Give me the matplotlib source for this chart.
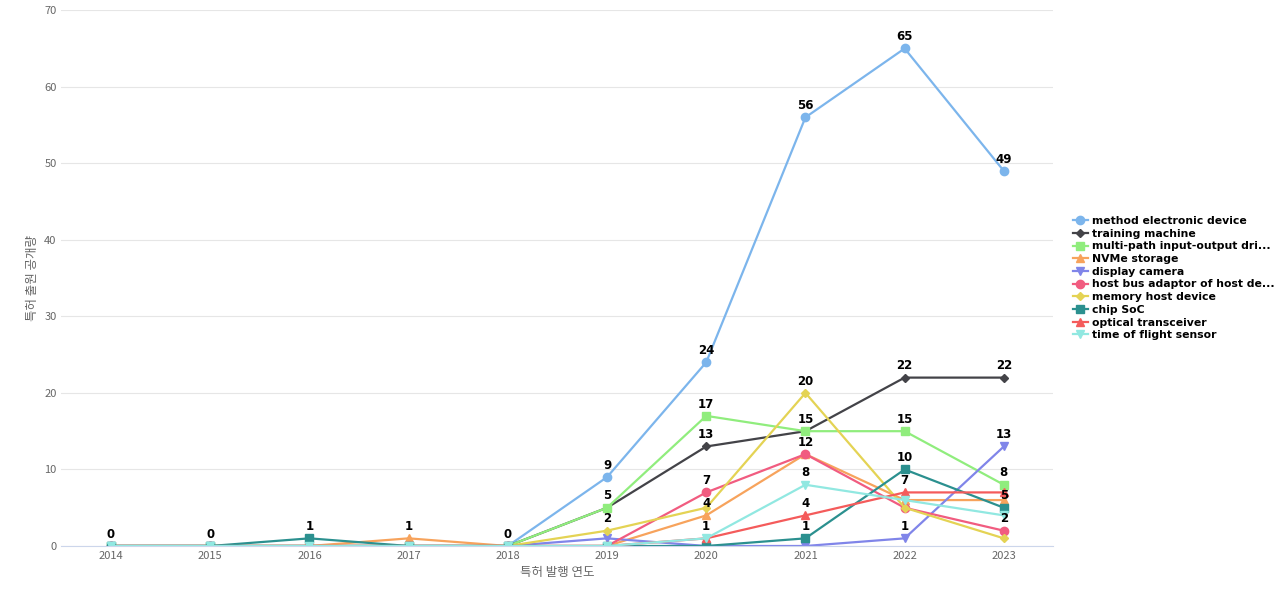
import matplotlib.pyplot as plt

plt.rcParams['font.family'] = ['Noto Sans CJK KR', 'Noto Sans CJK JP', 'Noto Sans CJK SC', 'DejaVu Sans']

years = [2014, 2015, 2016, 2017, 2018, 2019, 2020, 2021, 2022, 2023]
series_names = ['method electronic device', 'training machine', 'multi-path input-output dri...',
                'NVMe storage', 'display camera', 'host bus adaptor of host de...',
                'memory host device', 'chip SoC', 'optical transceiver', 'time of flight sensor']
values = [
    [0, 0, 0, 0, 0, 9, 24, 56, 65, 49],
    [0, 0, 0, 0, 0, 5, 13, 15, 22, 22],
    [0, 0, 0, 0, 0, 5, 17, 15, 15, 8],
    [0, 0, 0, 1, 0, 0, 4, 12, 6, 6],
    [0, 0, 0, 0, 0, 1, 0, 0, 1, 13],
    [0, 0, 0, 0, 0, 0, 7, 12, 5, 2],
    [0, 0, 0, 0, 0, 2, 5, 20, 5, 1],
    [0, 0, 1, 0, 0, 0, 0, 1, 10, 5],
    [0, 0, 0, 0, 0, 0, 1, 4, 7, 7],
    [0, 0, 0, 0, 0, 0, 1, 8, 6, 4],
]
colors = ['#7cb5ec', '#434348', '#90ed7d', '#f7a35c', '#8085e9',
          '#f15c80', '#e4d354', '#2b908f', '#f45b5b', '#91e8e1']
markers = ['o', 'D', 's', '^', 'v', 'o', 'D', 's', '^', 'v']

fig = plt.figure(figsize=(12.8, 6), dpi=100)
ax = fig.add_axes([0.048, 0.09, 0.775, 0.893])

for name, vals, c, m in zip(series_names, values, colors, markers):
    ax.plot(years, vals, color=c, marker=m, markersize=6 if m != 'D' else 4,
            linewidth=1.6, label=name)

# 겹치는 라벨은 건너뛰기
for i, yr in enumerate(years):
    placed = []
    order = sorted(range(len(values)), key=lambda k: -values[k][i])
    for k in order:
        v = values[k][i]
        if any(abs(v - p) < 2.5 for p in placed):
            continue
        placed.append(v)
        ax.annotate(str(v), (yr, v), textcoords='offset points', xytext=(0, 6),
                    ha='center', fontsize=8.5, fontweight='bold', fontfamily='DejaVu Sans')

ax.set_xlim(2013.5, 2023.5)
ax.set_ylim(0, 70)
ax.set_xticks(years)
ax.set_yticks(range(0, 71, 10))
ax.tick_params(length=0, labelsize=8, colors='#666666')
ax.grid(axis='y', color='#e6e6e6')
for s in ['top', 'right', 'left']:
    ax.spines[s].set_visible(False)
ax.spines['bottom'].set_color('#ccd6eb')
ax.set_xlabel('특허 발행 연도', fontsize=9, color='#666666')
ax.set_ylabel('특허 출원 공개량', fontsize=9, color='#666666')

leg = ax.legend(loc='center left', bbox_to_anchor=(1.015, 0.5), frameon=False,
                prop={'size': 7.8, 'weight': 'bold', 'family': 'DejaVu Sans'},
                handlelength=1.4, handletextpad=0.4, labelspacing=0.25, borderaxespad=0)

plt.savefig('out.png')
